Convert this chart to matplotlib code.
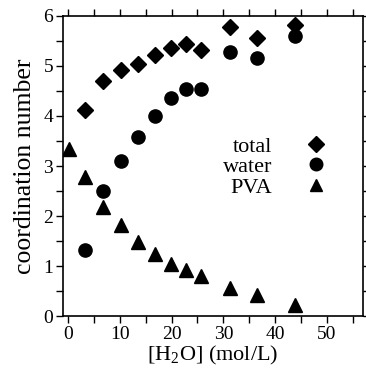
import matplotlib.pyplot as plt
from matplotlib.ticker import MultipleLocator

plt.rcParams['font.family'] = ['Liberation Serif', 'DejaVu Serif']
plt.rcParams['mathtext.fontset'] = 'custom'
plt.rcParams['mathtext.rm'] = 'Liberation Serif'

# concentration of water (mol/L)
conc = [3.3, 6.7, 10.3, 13.6, 16.8, 19.9, 22.8, 25.7, 31.3, 36.5, 43.8]
total = [4.12, 4.70, 4.92, 5.03, 5.21, 5.36, 5.43, 5.31, 5.78, 5.55, 5.82]
water = [1.33, 2.51, 3.10, 3.57, 4.00, 4.36, 4.54, 4.54, 5.28, 5.16, 5.60]
pva_conc = [0.2, 3.3, 6.7, 10.3, 13.6, 16.8, 19.9, 22.8, 25.7, 31.3, 36.5, 43.8]
pva = [3.33, 2.79, 2.19, 1.83, 1.49, 1.24, 1.04, 0.92, 0.80, 0.56, 0.42, 0.22]

fig = plt.figure(figsize=(3.66, 3.79), dpi=100)
ax = fig.add_axes([0.172, 0.166, 0.82, 0.792])

ax.plot(conc, total, 'D', color='black', markersize=8.5, label='total')
ax.plot(conc, water, 'o', color='black', markersize=9.5, label='water')
ax.plot(pva_conc, pva, '^', color='black', markersize=9.5, label='PVA')

ax.set_xlim(-1, 57)
ax.set_ylim(0, 6)
ax.xaxis.set_major_locator(MultipleLocator(10))
ax.xaxis.set_minor_locator(MultipleLocator(5))
ax.yaxis.set_major_locator(MultipleLocator(1))
ax.yaxis.set_minor_locator(MultipleLocator(0.5))
ax.tick_params(which='both', direction='out', top=True, right=True,
               labelsize=14, width=1, pad=2)
ax.tick_params(which='major', length=5)
ax.tick_params(which='minor', length=5)
for s in ax.spines.values():
    s.set_linewidth(1.2)

ax.set_xlabel('[H$_2$O] (mol/L)', fontsize=16, labelpad=1)
ax.set_ylabel('coordination number', fontsize=18.5, labelpad=5)

leg = ax.legend(loc='center right', bbox_to_anchor=(0.915, 0.497),
                frameon=False, markerfirst=False, fontsize=16,
                handlelength=0.9, handletextpad=1.55, labelspacing=0.0,
                borderpad=0, markerscale=0.95)
for t in leg.get_texts():
    t.set_ha('right')

fig.savefig('out.png', dpi=100)
